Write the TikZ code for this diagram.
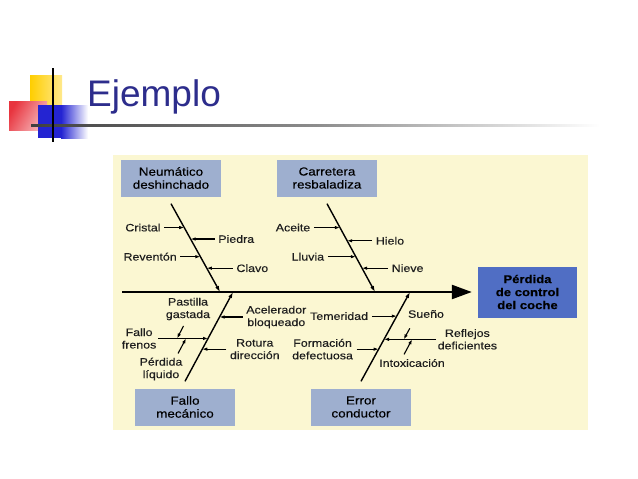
\documentclass[tikz,border=0pt]{standalone}
\usepackage{fontspec}
\setmainfont{Liberation Sans}
\newfontfamily\fishfont[FakeStretch=1.16, FakeBold=0.3]{Liberation Sans}
\usetikzlibrary{arrows.meta, positioning, calc}

\definecolor{bgyellow}{RGB}{251,247,210}
\definecolor{catblue}{RGB}{158,175,207}
\definecolor{effblue}{RGB}{80,110,196}
\definecolor{titleblue}{RGB}{45,45,140}
\definecolor{ink}{RGB}{30,30,30}
\definecolor{squareyellow}{RGB}{255,206,0}
\definecolor{squarered}{RGB}{232,52,62}
\definecolor{squareblue}{RGB}{36,36,210}

\begin{document}
\begin{tikzpicture}[x=1pt, y=-1pt,
    cat/.style={fill=catblue, minimum width=100pt, minimum height=37pt, inner sep=0pt, align=center, font=\fishfont\fontsize{11.6}{13}\selectfont},
    effect/.style={fill=effblue, minimum width=99pt, minimum height=51pt, inner sep=0pt, align=center, font=\fishfont\bfseries\fontsize{11.3}{13}\selectfont},
    cause/.style={inner sep=1.5pt, align=center, text=ink, font=\fishfont\fontsize{10.7}{12.5}\selectfont},
    spine/.style={line width=2.4pt, -{Triangle[length=20pt,width=14pt]}},
    bone/.style={line width=1.4pt, -{Latex[length=6pt,width=4pt]}},
    twig/.style={line width=1.1pt, shorten <=2pt, -{Latex[length=5pt,width=3.5pt]}}
]
    % page and scanned area
    \fill[white] (0,0) rectangle (638,479);
    \useasboundingbox (0,0) rectangle (638,479);
    \fill[bgyellow] (113,155) rectangle (588,430);

    % === Title ===
    \shade[left color=squareyellow, right color=squareyellow!45!white] (30,75) rectangle (62,107);
    \shade[left color=squarered, right color=squarered!35!white, shading angle=60] (9,101) rectangle (47,130);
    \fill[squareblue] (38,105) rectangle (61,138);
    \shade[left color=squareblue, right color=white] (61,105) rectangle (88,138);
    \shade[left color=black!75, right color=white, middle color=black!45] (31,124) rectangle (600,126.2);
    \fill[black] (52,68) rectangle (54.2,142);
    \node[anchor=base west, inner sep=0pt, text=titleblue, font=\fontsize{37}{40}\selectfont] (titulo) at (87,106) {Ejemplo};

    % === Boxes ===
    \node[cat] (neumatico) at (171,178) {Neumático\\deshinchado};
    \node[cat] (carretera) at (327,178) {Carretera\\resbaladiza};
    \node[cat] (mecanico) at (185,407) {Fallo\\mecánico};
    \node[cat] (conductor) at (361,407) {Error\\conductor};
    \node[effect] (perdida) at (527.5,292) {Pérdida\\de control\\del coche};

    % spine
    \coordinate (cola) at (122,292);
    \draw[spine] (cola) -- ([xshift=-6pt]perdida.west);

    % bones
    \path ([yshift=-7pt]neumatico.south) coordinate (na);
    \coordinate (nb) at (220,292);
    \path ([yshift=-7pt]carretera.south) coordinate (ca);
    \coordinate (cb) at (375,292);
    \path ([yshift=7pt]mecanico.north) coordinate (ma);
    \coordinate (mb) at (233,292);
    \path ([yshift=7pt]conductor.north) coordinate (ea);
    \coordinate (eb) at (410,292);
    \draw[bone] (na) -- (nb);
    \draw[bone] (ca) -- (cb);
    \draw[bone] (ma) -- (mb);
    \draw[bone] (ea) -- (eb);

    % === Neumático deshinchado ===
    \coordinate (n1) at ($(na)!0.27!(nb)$);
    \coordinate (n2) at ($(na)!0.40!(nb)$);
    \coordinate (n3) at ($(na)!0.60!(nb)$);
    \coordinate (n4) at ($(na)!0.73!(nb)$);
    \node[cause, left=22pt of n1] (cristal) {Cristal};
    \node[cause, right=26pt of n2] (piedra) {Piedra};
    \node[cause, left=22pt of n3] (reventon) {Reventón};
    \node[cause, right=28pt of n4] (clavo) {Clavo};
    \draw[twig] (cristal) -- (n1);
    \draw[twig] (piedra) -- (n2);
    \draw[twig] (reventon) -- (n3);
    \draw[twig] (clavo) -- (n4);

    % === Carretera resbaladiza ===
    \coordinate (c1) at ($(ca)!0.27!(cb)$);
    \coordinate (c2) at ($(ca)!0.42!(cb)$);
    \coordinate (c3) at ($(ca)!0.60!(cb)$);
    \coordinate (c4) at ($(ca)!0.73!(cb)$);
    \node[cause, left=28pt of c1] (aceite) {Aceite};
    \node[cause, right=27pt of c2] (hielo) {Hielo};
    \node[cause, left=30pt of c3] (lluvia) {Lluvia};
    \node[cause, right=28pt of c4] (nieve) {Nieve};
    \draw[twig] (aceite) -- (c1);
    \draw[twig] (hielo) -- (c2);
    \draw[twig] (lluvia) -- (c3);
    \draw[twig] (nieve) -- (c4);

    % === Fallo mecánico ===
    \coordinate (m1) at ($(ma)!0.72!(mb)$);
    \coordinate (m2) at ($(ma)!0.48!(mb)$);
    \coordinate (m3) at ($(ma)!0.36!(mb)$);
    \node[cause, right=25pt of m1] (acelerador) {Acelerador\\bloqueado};
    \node[cause, left=50pt of m2] (frenos) {Fallo\\frenos};
    \node[cause, right=26pt of m3] (rotura) {Rotura\\dirección};
    \draw[twig] (acelerador) -- (m1);
    \draw[twig, shorten <=0pt] (frenos) -- (m2);
    \draw[twig] (rotura) -- (m3);
    % sub-causes of frenos
    \coordinate (f1) at ($(frenos.east)!0.38!(m2)$);
    \coordinate (f2) at ($(frenos.east)!0.56!(m2)$);
    \coordinate (fs1) at ($(f1)+(6.5,-12.5)$);
    \coordinate (fs2) at ($(f2)+(-8,15)$);
    \node[cause] (pastilla) at (188,309) {Pastilla\\gastada};
    \node[cause] (liquido) at (161,369) {Pérdida\\líquido};
    \draw[twig, shorten <=0pt] (fs1) -- (f1);
    \draw[twig, shorten <=0pt] (fs2) -- (f2);

    % === Error conductor ===
    \coordinate (e1) at ($(ea)!0.73!(eb)$);
    \coordinate (e2) at ($(ea)!0.47!(eb)$);
    \coordinate (e3) at ($(ea)!0.36!(eb)$);
    \node[cause, left=27pt of e1] (temeridad) {Temeridad};
    \node[cause, right=52pt of e2] (reflejos) {Reflejos\\deficientes};
    \node[cause, left=24pt of e3] (formacion) {Formación\\defectuosa};
    \draw[twig] (temeridad) -- (e1);
    \draw[twig, shorten <=0pt] (reflejos) -- (e2);
    \draw[twig] (formacion) -- (e3);
    % sub-causes of reflejos
    \coordinate (r1) at ($(e2)!0.38!(reflejos.west)$);
    \coordinate (r2) at ($(e2)!0.54!(reflejos.west)$);
    \coordinate (rs1) at ($(r1)+(6,-11)$);
    \coordinate (rs2) at ($(r2)+(-8,15)$);
    \node[cause] (sueno) at (426,314) {Sueño};
    \node[cause] (intoxicacion) at (412,363) {Intoxicación};
    \draw[twig, shorten <=0pt] (rs1) -- (r1);
    \draw[twig, shorten <=0pt] (rs2) -- (r2);
\end{tikzpicture}
\end{document}
